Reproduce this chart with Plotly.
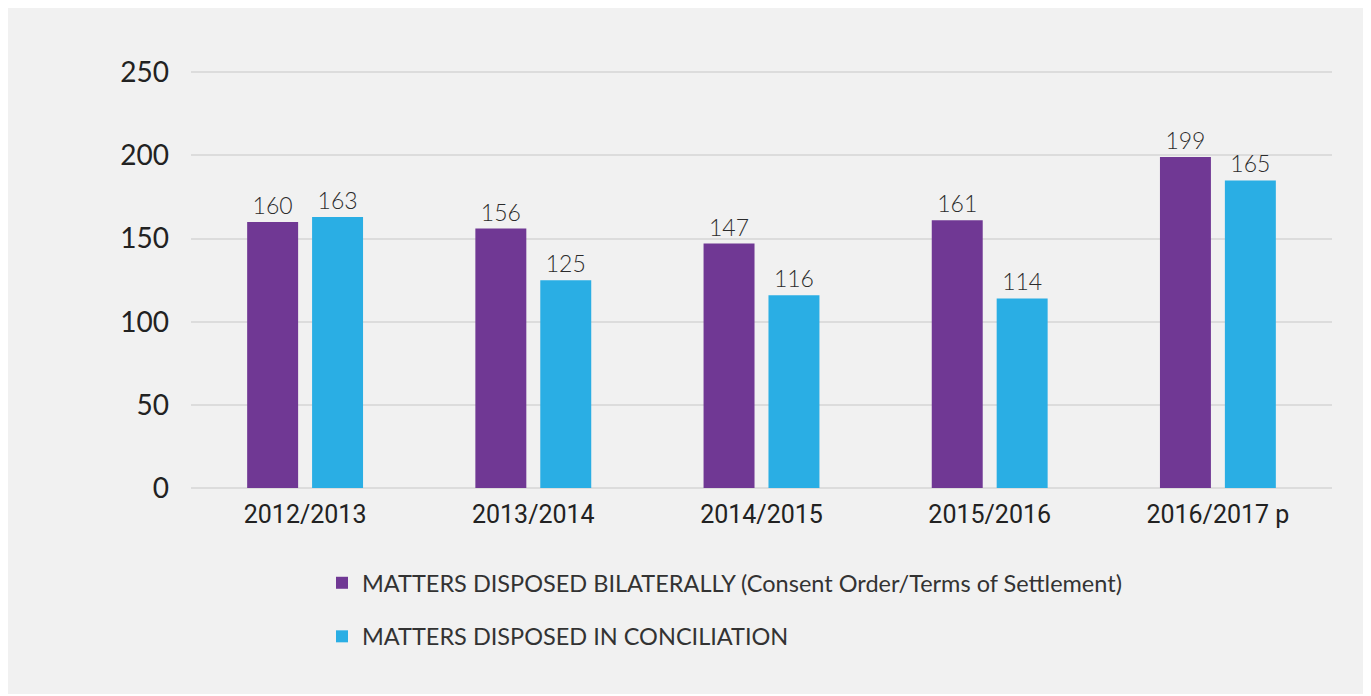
import plotly.graph_objects as go

categories = ["2012/2013", "2013/2014", "2014/2015", "2015/2016", "2016/2017 p"]
bilateral = [160, 156, 147, 161, 199]
conciliation = [163, 125, 116, 114, 185]
bilateral_labels = ["160", "156", "147", "161", "199"]
conciliation_labels = ["163", "125", "116", "114", "165"]
series_names = ["MATTERS DISPOSED BILATERALLY (Consent Order/Terms of Settlement)",
                "MATTERS DISPOSED IN CONCILIATION"]
colors = ["#703894", "#2aaee4"]
yticks = [0, 50, 100, 150, 200, 250]

W, H = 1371, 696
ml, mr, mt, mb = 183, 47, 61, 216
pw, ph = W - ml - mr, H - mt - mb

def px_x(p):
    return (p - ml) / pw

def px_y(p):
    return (H - mb - p) / ph

FONT = "Lato"

fig = go.Figure()
for vals, labs, name, col, grp in [(bilateral, bilateral_labels, series_names[0], colors[0], "a"),
                                   (conciliation, conciliation_labels, series_names[1], colors[1], "b")]:
    fig.add_trace(go.Bar(
        x=categories, y=vals, name=name, marker=dict(color=col, line=dict(width=0)),
        text=labs, textposition="outside", cliponaxis=False, legendgroup=grp,
        textfont=dict(family="Lato Light, Lato", size=23, color="#2b2b2b"),
    ))

fig.update_layout(
    width=W, height=H,
    margin=dict(l=ml, r=mr, t=mt, b=mb),
    paper_bgcolor="white", plot_bgcolor="rgba(0,0,0,0)",
    barmode="group", bargap=0.431, bargroupgap=0.215,
    font=dict(family=FONT, color="#222"),
    xaxis=dict(showgrid=False, showline=False, ticks="",
               tickfont=dict(family="Roboto", size=25, color="#222"),
               ticklabelstandoff=9),
    yaxis=dict(range=[0, 252], tickvals=yticks, showgrid=True, gridcolor="#dcdcdc", gridwidth=2,
               zeroline=True, zerolinecolor="#dcdcdc", zerolinewidth=2,
               tickfont=dict(size=28, color="#222"), ticklabelstandoff=21),
    legend=dict(orientation="v", x=px_x(314), y=px_y(553), xanchor="left", yanchor="top",
                font=dict(family=FONT, size=23.5, color="#333"), bgcolor="rgba(0,0,0,0)",
                tracegroupgap=20, traceorder="grouped"),
    showlegend=True,
    shapes=[dict(type="rect", xref="paper", yref="paper", layer="below",
                 x0=px_x(-1), x1=px_x(1357), y0=px_y(686), y1=px_y(-2),
                 fillcolor="#f1f1f1", line=dict(width=0))],
)

fig.write_html("out.html")
